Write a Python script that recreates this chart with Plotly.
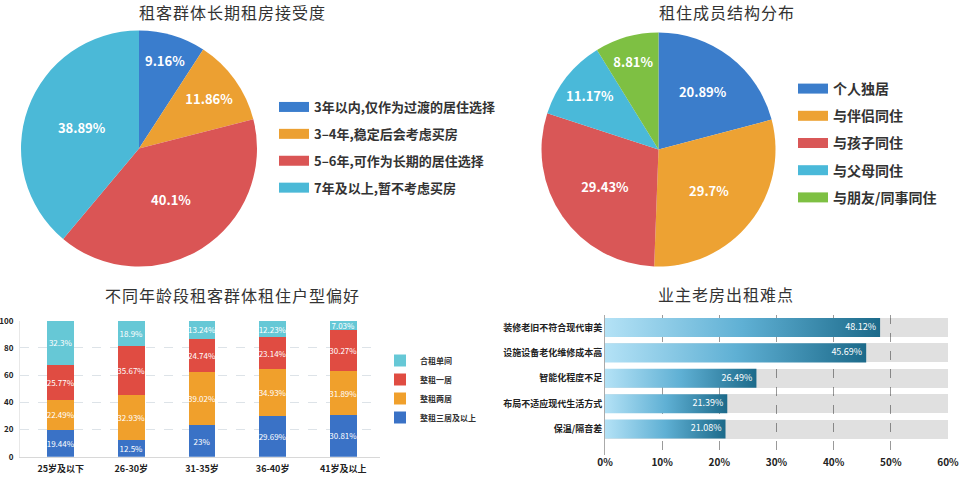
import plotly.graph_objects as go

W, H = 960, 477
FONT = "Noto Sans CJK SC"

# ---------------- data ----------------
pie1_labels = ["3年以内,仅作为过渡的居住选择", "3–4年,稳定后会考虑买房", "5–6年,可作为长期的居住选择", "7年及以上,暂不考虑买房"]
pie1_values = [9.16, 11.86, 40.1, 38.89]
pie1_colors = ["#3a7dcd", "#eca032", "#da5555", "#4bb9d7"]

pie2_labels = ["个人独居", "与伴侣同住", "与孩子同住", "与父母同住", "与朋友/同事同住"]
pie2_values = [20.89, 29.7, 29.43, 11.17, 8.81]
pie2_colors = ["#3b7dcb", "#eda233", "#d95757", "#4ab9d9", "#7ec043"]

age_groups = ["25岁及以下", "26-30岁", "31-35岁", "36-40岁", "41岁及以上"]
stack_names = ["整租三居及以上", "整租两居", "整租一居", "合租单间"]
stack_values = {
    "整租三居及以上": [19.44, 12.5, 23, 29.69, 30.81],
    "整租两居": [22.49, 32.93, 39.02, 34.93, 31.89],
    "整租一居": [25.77, 35.67, 24.74, 23.14, 30.27],
    "合租单间": [32.3, 18.9, 13.24, 12.23, 7.03],
}
stack_colors = {"整租三居及以上": "#3a72c6", "整租两居": "#f0a02c", "整租一居": "#e04c42", "合租单间": "#66c8d6"}
stack_yticks = [0, 20, 40, 60, 80, 100]

issues = ["装修老旧不符合现代审美", "设施设备老化维修成本高", "智能化程度不足", "布局不适应现代生活方式", "保温/隔音差"]
issue_values = [48.12, 45.69, 26.49, 21.39, 21.08]
issue_axis_max = 60
issue_xticks = [0, 10, 20, 30, 40, 50, 60]


def px(x):
    return x / W


def py(y):
    return 1 - y / H


def spaced(s):
    return "\u200a".join(s)


fig = go.Figure()

# ---------------- pies ----------------
r1, c1 = 118, (139, 148.5)
fig.add_trace(go.Pie(
    labels=pie1_labels, values=pie1_values, sort=False, direction="clockwise", rotation=0,
    marker=dict(colors=pie1_colors, line=dict(width=0)),
    text=[f"{v}%" for v in pie1_values], textinfo="text", textposition="inside",
    insidetextorientation="horizontal",
    textfont=dict(color="white", size=13, family=FONT, weight="bold"),
    domain=dict(x=[px(c1[0] - r1), px(c1[0] + r1)], y=[py(c1[1] + r1), py(c1[1] - r1)]),
    showlegend=False, hoverinfo="label+text",
))
r2, c2 = 117, (658.5, 149.5)
fig.add_trace(go.Pie(
    labels=pie2_labels, values=pie2_values, sort=False, direction="clockwise", rotation=0,
    marker=dict(colors=pie2_colors, line=dict(width=0)),
    text=[f"{v}%" for v in pie2_values], textinfo="text", textposition="inside",
    insidetextorientation="horizontal",
    textfont=dict(color="white", size=13, family=FONT, weight="bold"),
    domain=dict(x=[px(c2[0] - r2), px(c2[0] + r2)], y=[py(c2[1] + r2), py(c2[1] - r2)]),
    showlegend=False, hoverinfo="label+text",
))

# legend entries for pies (dummy traces, wide swatches)
for lab, col in zip(pie1_labels, pie1_colors):
    fig.add_trace(go.Scatter(x=[None], y=[None], mode="lines", name=lab, legend="legend",
                             legendgroup="p1" + lab, line=dict(color=col, width=18),
                             xaxis="x2", yaxis="y2"))
for lab, col in zip(pie2_labels, pie2_colors):
    fig.add_trace(go.Scatter(x=[None], y=[None], mode="lines", name=lab, legend="legend2",
                             legendgroup="p2" + lab, line=dict(color=col, width=18),
                             xaxis="x2", yaxis="y2"))

# ---------------- stacked bars ----------------
for name in stack_names:
    vals = stack_values[name]
    fig.add_trace(go.Bar(
        x=list(range(len(age_groups))), y=vals, name=name, marker=dict(color=stack_colors[name], line=dict(width=0)),
        width=0.38, text=[f"{v}%" for v in vals], textposition="inside", insidetextanchor="middle",
        textangle=0, constraintext="none",
        textfont=dict(color="white", size=8, family=FONT),
        xaxis="x", yaxis="y", legend="legend3", hoverinfo="name+y",
    ))

# ---------------- horizontal bars with gradient ----------------
yidx = list(range(len(issues)))
fig.add_trace(go.Bar(
    x=[issue_axis_max] * len(issues), y=yidx, orientation="h", width=0.75,
    marker=dict(color="rgba(0,0,0,0.12)", line=dict(width=0)),
    xaxis="x2", yaxis="y2", showlegend=False, hoverinfo="skip",
))
hw = 0.375
for i, v in enumerate(issue_values):
    fig.add_trace(go.Scatter(
        x=[0, v, v, 0, 0], y=[i - hw, i - hw, i + hw, i + hw, i - hw],
        mode="lines", fill="toself", line=dict(width=0),
        fillgradient=dict(type="horizontal", colorscale=[[0, "#b4e2f6"], [0.5, "#5fb0d4"], [1, "#1c6a8a"]]),
        xaxis="x2", yaxis="y2", showlegend=False, hoverinfo="skip",
    ))
fig.add_trace(go.Scatter(
    x=issue_values, y=yidx, mode="text", text=[f"{v}%  " for v in issue_values],
    textposition="middle left", textfont=dict(color="white", size=9, family=FONT),
    xaxis="x2", yaxis="y2", showlegend=False, hoverinfo="skip",
))

# ---------------- layout ----------------
axis_font = dict(family=FONT, size=9, color="#222", weight="bold")
title_font = dict(family=FONT, size=16, color="#333")
fig.update_layout(
    width=W, height=H, margin=dict(l=0, r=0, t=0, b=0, pad=0, autoexpand=False),
    paper_bgcolor="white", plot_bgcolor="white",
    font=dict(family=FONT, color="#333"),
    barmode="stack",
    xaxis=dict(domain=[px(20), px(380)], range=[-0.576, 4.52], tickmode="array",
               tickvals=list(range(len(age_groups))), ticktext=age_groups, tickfont=axis_font,
               showgrid=False, zeroline=False, showline=True, linecolor="#d8d8d8", linewidth=1,
               ticks="", anchor="y", automargin=False, ticklabelstandoff=3),
    yaxis=dict(domain=[py(456.7), py(320.7)], range=[0, 100], tickvals=stack_yticks,
               tickfont=dict(family=FONT, size=8, color="#222", weight="bold"),
               showgrid=True, gridcolor="#dde3e8", griddash="dash", gridwidth=1,
               zeroline=False, showline=True, linecolor="#e8e8e8", linewidth=1,
               ticks="", anchor="x", automargin=False, ticklabelstandoff=4),
    xaxis2=dict(domain=[px(605), px(948)], range=[0, issue_axis_max], tickvals=issue_xticks,
                ticktext=[f"{t}%" for t in issue_xticks], tickfont=dict(family=FONT, size=10, color="#222", weight="bold"),
                showgrid=True, gridcolor="#9a9a9a", griddash="dash", gridwidth=1,
                zeroline=False, showline=False, ticks="", anchor="y2", automargin=False),
    yaxis2=dict(domain=[py(455), py(315)], range=[5.02, -0.49], tickvals=yidx, ticktext=issues,
                tickfont=dict(family=FONT, size=9, color="#222", weight="bold"),
                showgrid=False, zeroline=False, showline=True, linecolor="#aaa", linewidth=1,
                ticks="", anchor="x2", automargin=False),
    legend=dict(x=px(274), y=py(147.5), xanchor="left", yanchor="middle",
                font=dict(family=FONT, size=13, color="#333", weight="bold"),
                traceorder="grouped", tracegroupgap=7, itemclick=False, bgcolor="rgba(0,0,0,0)"),
    legend2=dict(x=px(793), y=py(143), xanchor="left", yanchor="middle",
                 font=dict(family=FONT, size=14, color="#333", weight="bold"),
                 traceorder="grouped", tracegroupgap=6, itemclick=False, bgcolor="rgba(0,0,0,0)"),
    legend3=dict(x=px(380), y=py(389), xanchor="left", yanchor="middle",
                 font=dict(family=FONT, size=8, color="#333", weight="bold"),
                 traceorder="reversed", itemclick=False, bgcolor="rgba(0,0,0,0)"),
    annotations=[
        dict(text=spaced("租客群体长期租房接受度"), x=px(232), y=py(11.5), xref="paper", yref="paper",
             xanchor="center", yanchor="middle", showarrow=False, font=title_font, borderpad=0),
        dict(text=spaced("租住成员结构分布"), x=px(726.5), y=py(11.5), xref="paper", yref="paper",
             xanchor="center", yanchor="middle", showarrow=False, font=title_font, borderpad=0),
        dict(text=spaced("不同年龄段租客群体租住户型偏好"), x=px(231.5), y=py(295), xref="paper", yref="paper",
             xanchor="center", yanchor="middle", showarrow=False, font=title_font),
        dict(text=spaced("业主老房出租难点"), x=px(725), y=py(293.5), xref="paper", yref="paper",
             xanchor="center", yanchor="middle", showarrow=False, font=title_font),
    ],
)

fig.write_html("out.html", config={"displayModeBar": False},
               post_script="document.body.style.margin='0';document.body.style.overflow='hidden';")
